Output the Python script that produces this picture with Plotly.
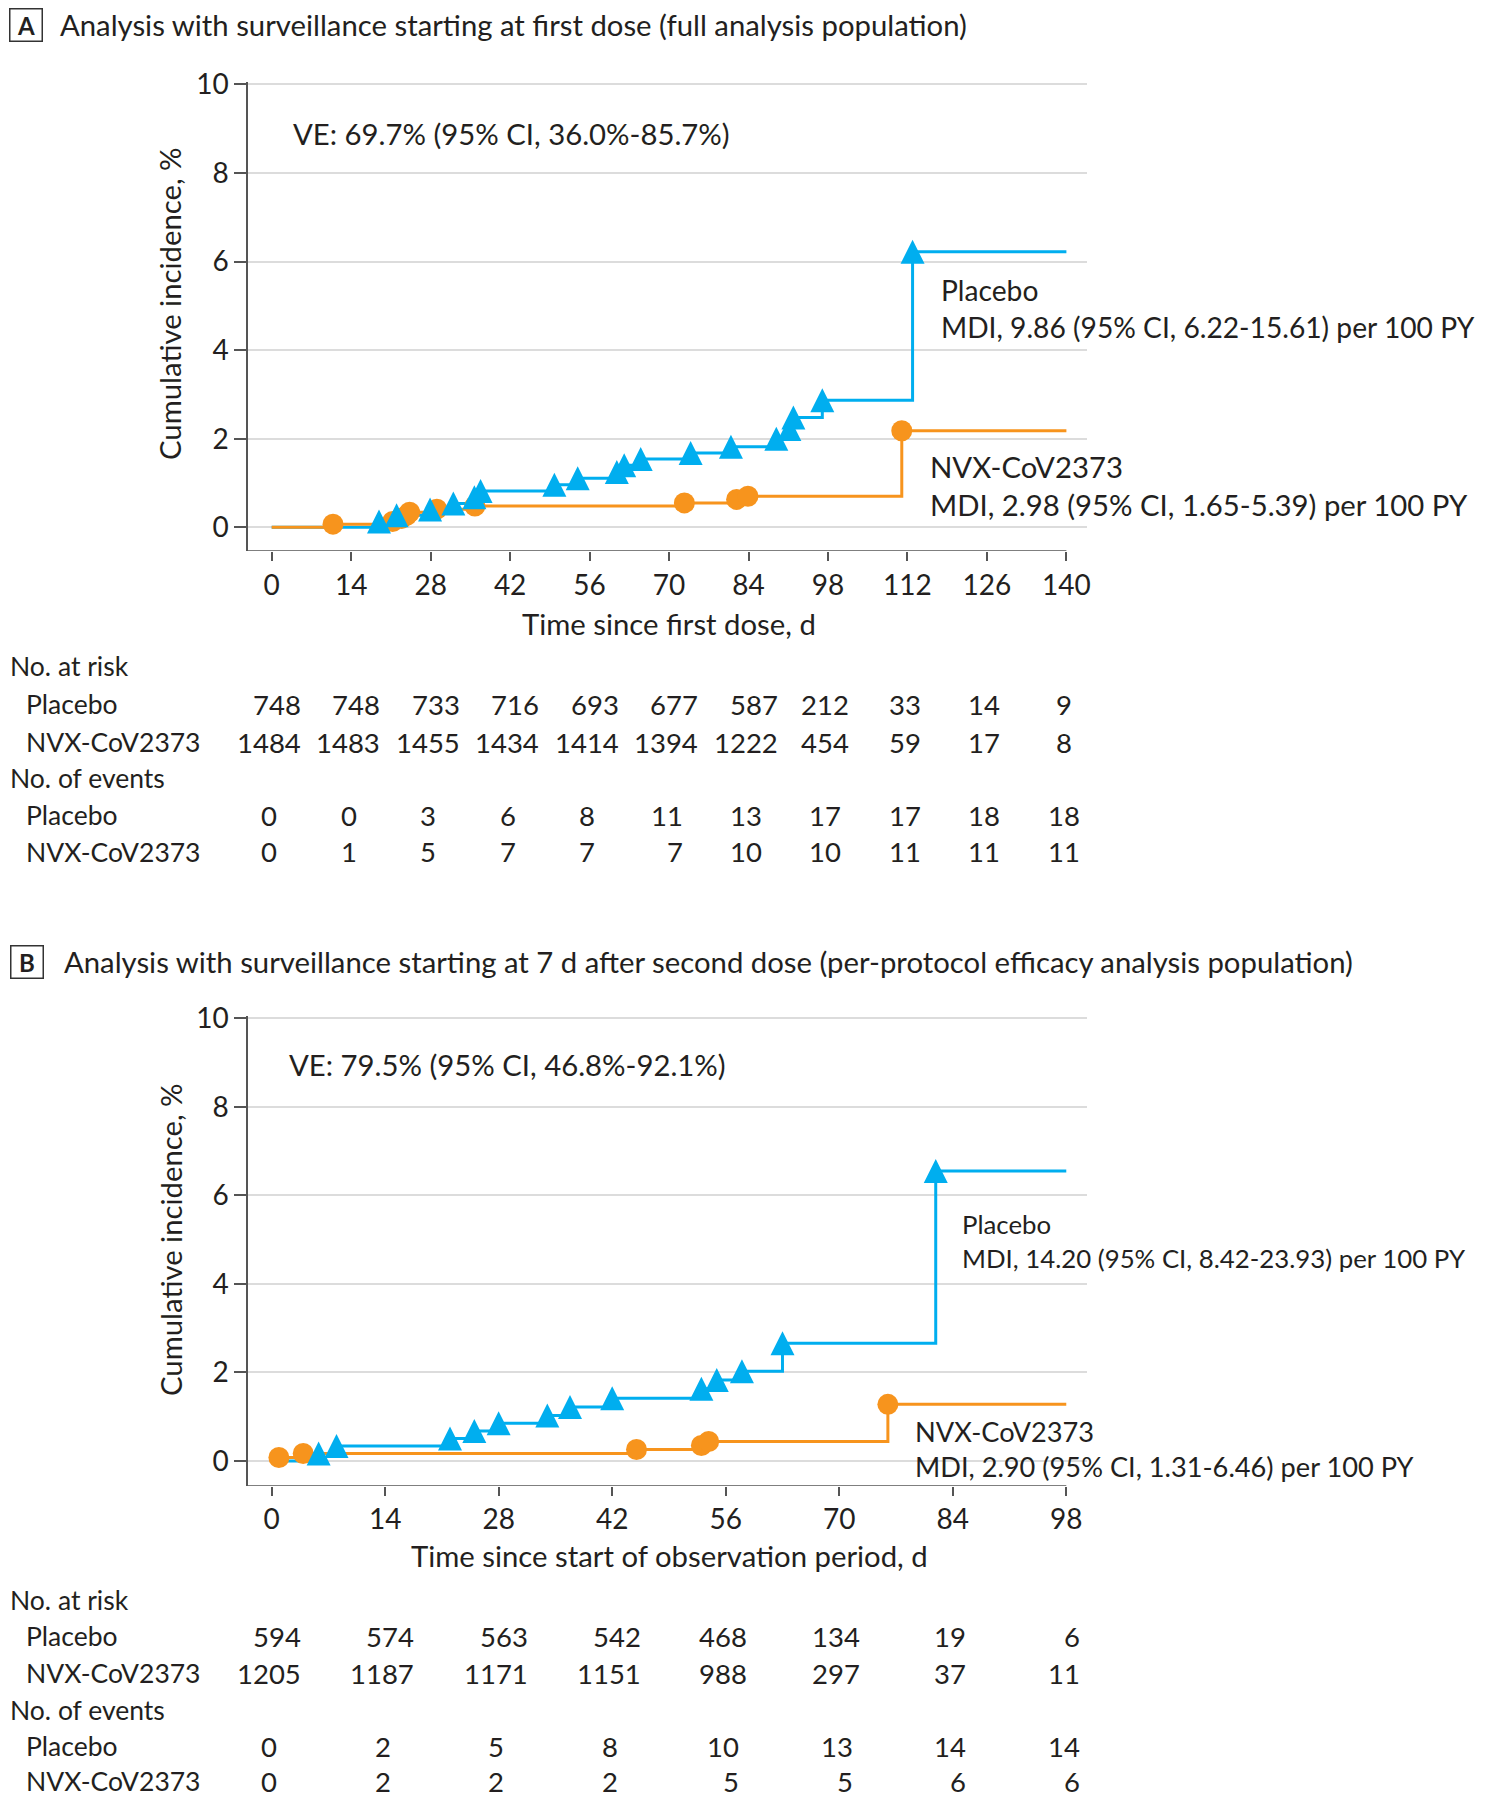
import plotly.graph_objects as go

# ---------------- data ----------------
# Panel A (surveillance from first dose)
a_days_ticks = [0, 14, 28, 42, 56, 70, 84, 98, 112, 126, 140]
a_placebo_t = [18.9, 22.0, 27.9, 32.0, 35.7, 36.8, 49.8, 53.9, 60.8, 62.1, 65.0, 73.8, 80.9, 88.9, 91.2, 91.9, 97.0, 112.9]
a_placebo_ci = [0.13, 0.27, 0.40, 0.54, 0.68, 0.82, 0.96, 1.11, 1.25, 1.40, 1.54, 1.68, 1.82, 2.00, 2.22, 2.48, 2.87, 6.22]
a_nvx_t = [10.8, 21.3, 22.9, 23.8, 24.3, 29.1, 35.8, 72.7, 81.9, 83.9, 111.0]
a_nvx_ci = [0.07, 0.13, 0.20, 0.27, 0.34, 0.41, 0.48, 0.55, 0.63, 0.70, 2.18]
a_end = 140
a_risk_placebo = [748, 748, 733, 716, 693, 677, 587, 212, 33, 14, 9]
a_risk_nvx = [1484, 1483, 1455, 1434, 1414, 1394, 1222, 454, 59, 17, 8]
a_events_placebo = [0, 0, 3, 6, 8, 11, 13, 17, 17, 18, 18]
a_events_nvx = [0, 1, 5, 7, 7, 7, 10, 10, 11, 11, 11]

# Panel B (surveillance from 7 d after second dose)
b_days_ticks = [0, 14, 28, 42, 56, 70, 84, 98]
b_placebo_t = [5.8, 8.0, 22.0, 25.0, 28.0, 34.0, 36.8, 42.0, 53.0, 54.9, 58.0, 63.0, 81.9]
b_placebo_ci = [0.17, 0.34, 0.51, 0.68, 0.85, 1.03, 1.22, 1.42, 1.63, 1.83, 2.03, 2.66, 6.55]
b_nvx_t = [0.9, 3.9, 45.0, 53.0, 53.9, 76.0]
b_nvx_ci = [0.08, 0.17, 0.26, 0.35, 0.44, 1.28]
b_end = 98
b_risk_placebo = [594, 574, 563, 542, 468, 134, 19, 6]
b_risk_nvx = [1205, 1187, 1171, 1151, 988, 297, 37, 11]
b_events_placebo = [0, 2, 5, 8, 10, 13, 14, 14]
b_events_nvx = [0, 2, 2, 2, 5, 5, 6, 6]

title_a = "Analysis with surveillance starting at first dose (full analysis population)"
title_b = "Analysis with surveillance starting at 7 d after second dose (per-protocol efficacy analysis population)"
ve_a = "VE: 69.7% (95% CI, 36.0%-85.7%)"
ve_b = "VE: 79.5% (95% CI, 46.8%-92.1%)"
lab_a_placebo = "Placebo<br>MDI, 9.86 (95% CI, 6.22-15.61) per 100 PY"
lab_a_nvx = "NVX-CoV2373<br>MDI, 2.98 (95% CI, 1.65-5.39) per 100 PY"
lab_b_placebo = "Placebo<br>MDI, 14.20 (95% CI, 8.42-23.93) per 100 PY"
lab_b_nvx = "NVX-CoV2373<br>MDI, 2.90 (95% CI, 1.31-6.46) per 100 PY"

# ---------------- style ----------------
PAGE_W, PAGE_H, BODY = 1496, 1800, 8
W, H = PAGE_W - BODY, PAGE_H - BODY
FONT = "Lato"
TXT = "#231f20"
BLUE = "#00aeef"
ORANGE = "#f7941d"
AXC = "#555555"
GRID = "#dcdcdc"
FS = 29.3      # titles, labels
FS_LAB_A_PL = 28.2
FS_LAB_B_PL = 25.8
FS_LAB_B = 27.2
FS_TICK = 28
FS_TAB = 26.5
FS_NUM = 27.5


def fx(p):
    return (p - BODY) / W


def fy(p):
    return 1 - (p - BODY) / H


fig = go.Figure()


def step_xy(t, ci, end):
    xs = [0] + list(t) + [end]
    ys = [0] + list(ci) + [ci[-1]]
    return xs, ys


def add_panel(xa, ya, pt, pc, nt, nc, end):
    xs, ys = step_xy(pt, pc, end)
    fig.add_trace(go.Scatter(x=xs, y=ys, mode="lines", line=dict(color=BLUE, width=3, shape="hv"),
                             xaxis=xa, yaxis=ya, showlegend=False, hoverinfo="skip"))
    xs, ys = step_xy(nt, nc, end)
    fig.add_trace(go.Scatter(x=xs, y=ys, mode="lines", line=dict(color=ORANGE, width=3, shape="hv"),
                             xaxis=xa, yaxis=ya, showlegend=False, hoverinfo="skip"))
    fig.add_trace(go.Scatter(x=nt, y=nc, mode="markers",
                             marker=dict(symbol="circle", size=21, color=ORANGE, line=dict(width=0)),
                             xaxis=xa, yaxis=ya, showlegend=False, hoverinfo="skip"))
    fig.add_trace(go.Scatter(x=pt, y=pc, mode="markers",
                             marker=dict(symbol="arrow-down", angle=180, standoff=12, size=24, color=BLUE,
                                         line=dict(width=0)),
                             xaxis=xa, yaxis=ya, showlegend=False, hoverinfo="skip"))


add_panel("x", "y", a_placebo_t, a_placebo_ci, a_nvx_t, a_nvx_ci, a_end)
add_panel("x2", "y2", b_placebo_t, b_placebo_ci, b_nvx_t, b_nvx_ci, b_end)

# pixel geometry of the plot areas (page pixels)
A_LEFT, A_RIGHT = 248, 1087
A_X0, A_PXD = 271.7, 5.6764
A_Y0, A_PXP, A_TOP, A_BOT = 527.3, 44.3, 82, 551
B_X0, B_PXD = 271.6, 8.109
B_Y0, B_PXP, B_TOP, B_BOT = 1461, 44.27, 1016, 1485.7

a_xr = [(A_LEFT - A_X0) / A_PXD, (A_RIGHT - A_X0) / A_PXD]
a_yr = [(A_Y0 - A_BOT) / A_PXP, (A_Y0 - A_TOP) / A_PXP]
b_xr = [(A_LEFT - B_X0) / B_PXD, (A_RIGHT - B_X0) / B_PXD]
b_yr = [(B_Y0 - B_BOT) / B_PXP, (B_Y0 - B_TOP) / B_PXP]

tickfont = dict(family=FONT, size=FS_TICK, color=TXT)
common_x = dict(showgrid=False, zeroline=False, showline=False, ticks="outside", ticklen=9,
                tickwidth=1.5, tickcolor=AXC, tickfont=tickfont, fixedrange=True, automargin=False)
common_y = dict(showgrid=True, gridcolor=GRID, gridwidth=2, zeroline=False, showline=True,
                linecolor=AXC, linewidth=1.5, ticks="outside", ticklen=12, tickwidth=1.5,
                tickcolor=AXC, tickfont=tickfont, tickvals=[0, 2, 4, 6, 8, 10], fixedrange=True,
                automargin=False)

fig.update_layout(
    template="none",
    width=W, height=H, margin=dict(l=0, r=0, t=0, b=0, pad=0, autoexpand=False),
    paper_bgcolor="white", plot_bgcolor="white",
    font=dict(family=FONT, size=FS, color=TXT),
    xaxis=dict(domain=[fx(A_LEFT), fx(A_RIGHT)], range=a_xr, tickvals=a_days_ticks, anchor="y", **common_x),
    yaxis=dict(domain=[fy(A_BOT), fy(A_TOP)], range=a_yr, anchor="x", **common_y),
    xaxis2=dict(domain=[fx(A_LEFT), fx(A_RIGHT)], range=b_xr, tickvals=b_days_ticks, anchor="y2", **common_x),
    yaxis2=dict(domain=[fy(B_BOT), fy(B_TOP)], range=b_yr, anchor="x2", **common_y),
)

# x-axis lines ending at the last tick
fig.add_shape(type="line", xref="x", yref="y", x0=a_xr[0], x1=a_days_ticks[-1], y0=a_yr[0], y1=a_yr[0],
              line=dict(color=AXC, width=1.5))
fig.add_shape(type="line", xref="x2", yref="y2", x0=b_xr[0], x1=b_days_ticks[-1], y0=b_yr[0], y1=b_yr[0],
              line=dict(color=AXC, width=1.5))

ann = []


def text(x, y, s, xanchor="left", size=FS, **kw):
    ann.append(dict(x=fx(x), y=fy(y), xref="paper", yref="paper", text=s, showarrow=False,
                    xanchor=xanchor, yanchor="middle", align="left",
                    font=dict(family=FONT, size=size, color=TXT), **kw))


# panel letters and titles
for letter, bx, by, tx, ty, t in [("A", 26, 25, 58, 25, title_a), ("B", 27, 962, 62, 961, title_b)]:
    ann.append(dict(x=fx(bx), y=fy(by), xref="paper", yref="paper", text="<b>" + letter + "</b>",
                    showarrow=False, xanchor="center", yanchor="middle", width=29, height=29,
                    bordercolor="#333333", borderwidth=1.5, borderpad=1,
                    font=dict(family=FONT, size=24, color=TXT)))
    text(tx, ty, t)

# VE texts
text(291, 133, ve_a)
text(287, 1064, ve_b)

# curve labels
text(939, 308, lab_a_placebo, size=FS_LAB_A_PL)
text(928, 486, lab_a_nvx)
text(960, 1241, lab_b_placebo, size=FS_LAB_B_PL)
text(913, 1449, lab_b_nvx, size=FS_LAB_B)

# axis titles
text(669, 623, "Time since first dose, d", xanchor="center")
text(669, 1555, "Time since start of observation period, d", xanchor="center")
for yc in (304, 1240):
    ann.append(dict(x=fx(170), y=fy(yc), xref="paper", yref="paper", text="Cumulative incidence, %",
                    showarrow=False, textangle=-90, xanchor="center", yanchor="middle",
                    font=dict(family=FONT, size=FS, color=TXT)))

DIGIT_W = 15.5


def table(xref, ticks, groups, rows_y, head_y):
    for (header, rows), hy, ry in zip(groups, head_y, rows_y):
        text(8, hy, header, size=FS_TAB)
        maxlen = [max(len(str(r[1][i])) for r in rows) for i in range(len(ticks))]
        for (label, vals), y in zip(rows, ry):
            text(24, y, label, size=FS_TAB)
            for i, (t, v) in enumerate(zip(ticks, vals)):
                ann.append(dict(x=t, y=fy(y), xref=xref, yref="paper", text=str(v), showarrow=False,
                                xanchor="right", yanchor="middle", xshift=maxlen[i] * DIGIT_W / 2,
                                font=dict(family=FONT, size=FS_NUM, color=TXT)))


table("x", a_days_ticks,
      [("No. at risk", [("Placebo", a_risk_placebo), ("NVX-CoV2373", a_risk_nvx)]),
       ("No. of events", [("Placebo", a_events_placebo), ("NVX-CoV2373", a_events_nvx)])],
      [(704, 742), (815, 852)], [666, 778])
table("x2", b_days_ticks,
      [("No. at risk", [("Placebo", b_risk_placebo), ("NVX-CoV2373", b_risk_nvx)]),
       ("No. of events", [("Placebo", b_events_placebo), ("NVX-CoV2373", b_events_nvx)])],
      [(1636, 1673), (1746, 1781)], [1600, 1710])

fig.update_layout(annotations=ann)
fig.write_html("out.html")
